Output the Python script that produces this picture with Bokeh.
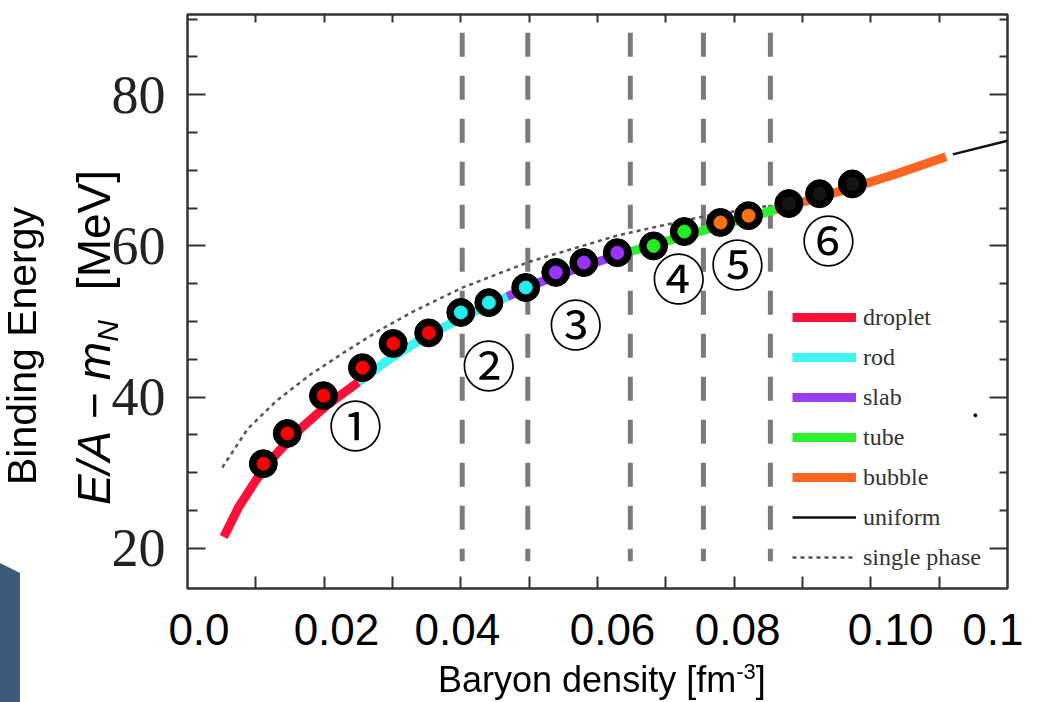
import math
from bokeh.plotting import figure
from bokeh.models import (Range1d, LinearAxis, FixedTicker, Legend, LegendItem, Div)
from bokeh.layouts import column
from bokeh.core.properties import value
from bokeh.embed import file_html
from bokeh.resources import INLINE

# ---------------- data ----------------
droplet_x = [0.0053, 0.0075, 0.0100, 0.0130, 0.0165, 0.0205, 0.0250]
droplet_y = [21.5, 25.5, 29.0, 32.5, 35.8, 39.0, 42.0]
rod_x = [0.0250, 0.0290, 0.0330, 0.0370, 0.0410, 0.0468]
rod_y = [42.0, 44.7, 47.0, 49.0, 50.9, 53.3]
slab_x = [0.0468, 0.0510, 0.0550, 0.0600, 0.0650]
slab_y = [53.3, 55.0, 56.4, 57.9, 59.3]
tube_x = [0.0650, 0.0700, 0.0750, 0.0800, 0.0860]
tube_y = [59.3, 60.6, 61.9, 63.2, 64.8]
bubble_x = [0.0860, 0.0920, 0.0980, 0.1040, 0.1110]
bubble_y = [64.8, 66.3, 67.9, 69.6, 71.8]
uniform_x = [0.1120, 0.1200]
uniform_y = [72.1, 73.9]
single_x = [0.0051, 0.0088, 0.013, 0.018, 0.0234, 0.028, 0.033, 0.040, 0.050, 0.063, 0.0755, 0.085]
single_y = [30.7, 35.8, 39.5, 43.0, 46.2, 48.8, 51.3, 54.4, 57.9, 61.4, 63.9, 65.3]

pts_droplet_x = [0.0111, 0.0146, 0.0199, 0.0256, 0.0301, 0.0353]
pts_droplet_y = [31.2, 35.2, 40.2, 43.9, 47.1, 48.5]
pts_rod_x = [0.0400, 0.0441, 0.0495]
pts_rod_y = [51.2, 52.5, 54.5]
pts_slab_x = [0.0539, 0.0580, 0.0629]
pts_slab_y = [56.5, 57.8, 59.1]
pts_tube_x = [0.0682, 0.0727]
pts_tube_y = [60.0, 61.9]
pts_bubble_x = [0.0780, 0.0821]
pts_bubble_y = [63.1, 64.0]
pts_uniform_x = [0.0880, 0.0925, 0.0973]
pts_uniform_y = [65.6, 66.9, 68.2]

stray_x = [0.1153]
stray_y = [37.6]

boundary_x = [0.0402, 0.0498, 0.0648, 0.0755, 0.0853]

region_labels = ["①", "②", "③", "④", "⑤", "⑥"]
region_x = [0.0246, 0.0441, 0.0568, 0.0719, 0.0805, 0.0938]
region_y = [36.5, 44.4, 49.9, 56.0, 57.8, 61.0]

legend_labels = ["droplet", "rod", "slab", "tube", "bubble", "uniform", "single phase"]

xtick_pos = [0.00168, 0.0218, 0.0395, 0.0622, 0.0805, 0.1029, 0.1195]
xtick_labels = ["0.0", "0.02", "0.04", "0.06", "0.08", "0.10", "0.1"]
xminor = [0.01, 0.02, 0.03, 0.04, 0.05, 0.06, 0.07, 0.08, 0.09, 0.10, 0.11]
ytick_pos = [20, 40, 60, 80]
yminor = [25, 30, 35, 45, 50, 55, 65, 70, 75, 85, 90]

x_title_main = "Baryon density [fm"
x_title_sup = "-3"
y_title_outer = "Binding Energy"
y_title_quantity = "E/A − m"
y_title_sub = "N"
y_title_unit = "[MeV]"

FIG_W, FIG_H = 1023, 686

# ---------------- figure ----------------
p = figure(width=FIG_W, height=FIG_H, output_backend="svg", toolbar_location=None,
           x_range=Range1d(0, 0.12), y_range=Range1d(14.7, 90.6),
           x_axis_location=None, y_axis_location=None,
           min_border_left=187, min_border_right=16, min_border_top=14,
           min_border_bottom=98, background_fill_color="white",
           border_fill_color="white")
p.grid.visible = False
p.outline_line_color = "#333333"
p.outline_line_width = 2.5
p.outline_line_alpha = 1.0

left = LinearAxis(ticker=FixedTicker(ticks=ytick_pos, minor_ticks=yminor))
left.major_tick_in = 18
left.major_tick_out = 0
left.minor_tick_in = 10
left.minor_tick_out = 0
left.major_tick_line_color = "#333333"
left.minor_tick_line_color = "#333333"
left.major_tick_line_width = 2
left.minor_tick_line_width = 2
left.axis_line_color = None
left.major_label_standoff = 22
left.major_label_text_font = "Liberation Serif"
left.major_label_text_font_size = "54px"
left.major_label_text_color = "#222222"
p.add_layout(left, "left")

right = LinearAxis(ticker=FixedTicker(ticks=ytick_pos, minor_ticks=yminor))
right.major_tick_in = 18
right.major_tick_out = 0
right.minor_tick_in = 8
right.minor_tick_out = 0
right.major_tick_line_color = "#333333"
right.minor_tick_line_color = "#333333"
right.major_tick_line_width = 2
right.minor_tick_line_width = 2
right.axis_line_color = None
right.major_label_overrides = {t: "" for t in ytick_pos}
right.major_label_standoff = 0
p.add_layout(right, "right")

bottom = LinearAxis(ticker=FixedTicker(ticks=xtick_pos, minor_ticks=xminor))
bottom.major_tick_in = 0
bottom.major_tick_out = 0
bottom.major_tick_line_color = None
bottom.minor_tick_in = 12
bottom.minor_tick_out = 0
bottom.minor_tick_line_color = "#333333"
bottom.minor_tick_line_width = 2
bottom.axis_line_color = None
bottom.major_label_overrides = dict(zip(xtick_pos, xtick_labels))
bottom.major_label_standoff = 25
bottom.major_label_text_font = "Liberation Sans"
bottom.major_label_text_font_size = "44px"
bottom.major_label_text_color = "black"
p.add_layout(bottom, "below")

top = LinearAxis(ticker=FixedTicker(ticks=[], minor_ticks=xminor))
top.minor_tick_in = 8
top.minor_tick_out = 0
top.minor_tick_line_color = "#333333"
top.minor_tick_line_width = 2
top.major_tick_line_color = None
top.axis_line_color = None
top.major_label_standoff = 0
p.add_layout(top, "above")

# phase boundaries
p.segment(x0=boundary_x, y0=[88.2] * len(boundary_x), x1=boundary_x,
          y1=[18.3] * len(boundary_x), line_width=5, line_color="#7a7a7a",
          line_dash="24 19")

r_single = p.line(single_x, single_y, line_width=2.5, line_color="#555555",
                  line_dash="4 4")
r_drop = p.line(droplet_x, droplet_y, line_width=9, line_color="#ff1038")
r_rod = p.line(rod_x, rod_y, line_width=9, line_color="#3ef4f4")
r_slab = p.line(slab_x, slab_y, line_width=9, line_color="#9a3cf4")
r_tube = p.line(tube_x, tube_y, line_width=9, line_color="#2cf02c")
r_bub = p.line(bubble_x, bubble_y, line_width=9, line_color="#ff6420")
r_uni = p.line(uniform_x, uniform_y, line_width=2.5, line_color="#111111")

groups = [
    (pts_droplet_x, pts_droplet_y, "#ff0000"),
    (pts_rod_x, pts_rod_y, "#22eeee"),
    (pts_slab_x, pts_slab_y, "#9933ff"),
    (pts_tube_x, pts_tube_y, "#22ee22"),
    (pts_bubble_x, pts_bubble_y, "#ff7412"),
    (pts_uniform_x, pts_uniform_y, "#151515"),
]
for gx, gy, c in groups:
    p.scatter(gx, gy, size=28, marker="circle", fill_color="black", line_color="black")
    p.scatter(gx, gy, size=13, marker="circle", fill_color=c, line_color=c)

p.scatter(stray_x, stray_y, size=3, color="black")

p.text(x=region_x, y=region_y, text=region_labels,
       text_font=value("Noto Sans CJK JP"), text_font_size="54px",
       text_align="center", text_baseline="middle", text_color="black")

renderers = [r_drop, r_rod, r_slab, r_tube, r_bub, r_uni, r_single]
items = [LegendItem(label=lab, renderers=[r]) for lab, r in zip(legend_labels, renderers)]
legend = Legend(items=items, location=(605, 16), orientation="vertical",
                glyph_width=64, glyph_height=30, label_height=30, spacing=10,
                padding=0, margin=0, label_standoff=7,
                label_text_font="Liberation Serif", label_text_font_size="24px",
                label_text_color="#333333", border_line_color=None,
                background_fill_alpha=0)
p.add_layout(legend, "center")

# axis titles outside the frame, as an HTML overlay (viewport-fixed positions)
rot = ("position:fixed;transform-origin:0 0;transform:rotate(-90deg);"
       "white-space:nowrap;font-family:'Liberation Sans';color:#000;z-index:10;")
html = (
    f'<div style="{rot}left:2px;top:485px;font-size:41px;line-height:41px">'
    f'{y_title_outer}</div>'
    f'<div style="{rot}left:71px;top:505px;font-size:46px;line-height:46px">'
    f'<i>{y_title_quantity}</i>'
    f'<i style="font-size:30px;position:relative;top:8px">{y_title_sub}</i>'
    f'<span style="margin-left:30px">{y_title_unit}</span></div>'
    '<div style="position:fixed;left:438px;top:662px;white-space:nowrap;'
    "font-family:'Liberation Sans';font-size:36px;line-height:36px;color:#000;z-index:10\">"
    f'{x_title_main}<span style="font-size:22px;position:relative;top:-13px">'
    f'{x_title_sup}</span>]</div>'
    '<div style="position:fixed;left:0px;top:563px;width:20px;height:139px;'
    'background:#3d5a78;z-index:9;'
    'clip-path:polygon(0 0,100% 10px,100% 100%,0 100%)"></div>'
)
overlay = Div(text=html, width=FIG_W, height=1, margin=0,
              styles={"overflow": "visible"})

layout = column(p, overlay, spacing=0)
open("out.html", "w").write(file_html(layout, INLINE))
